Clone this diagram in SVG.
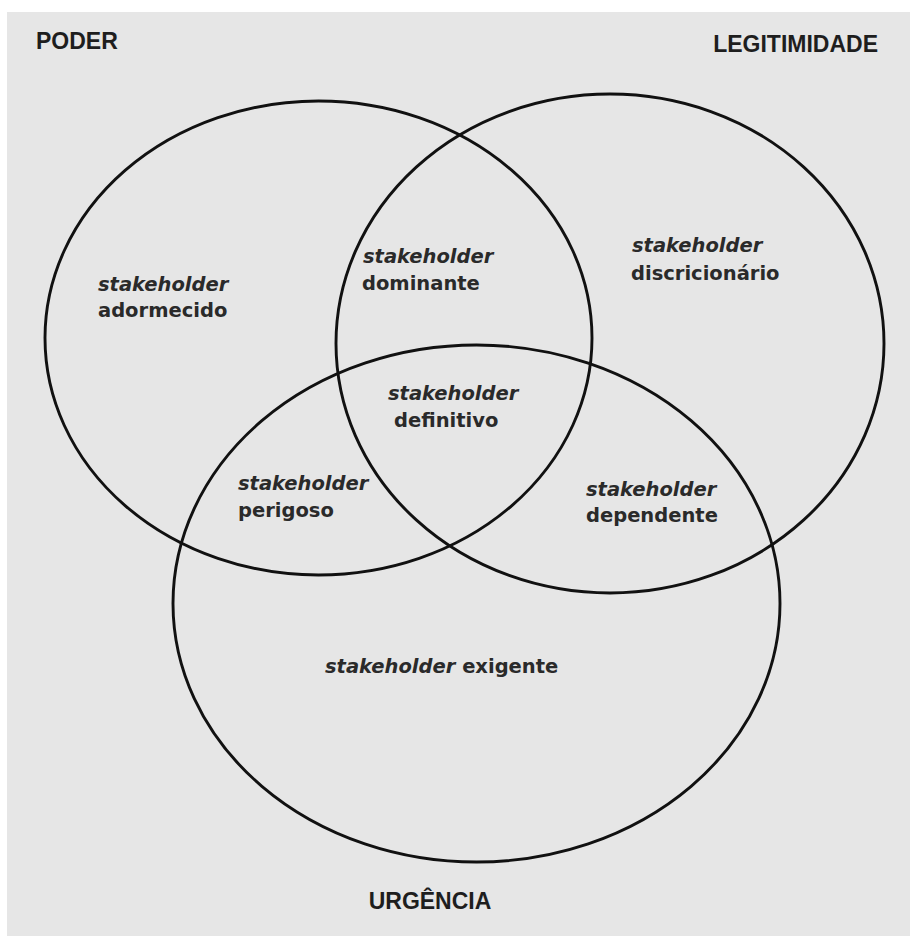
<svg xmlns="http://www.w3.org/2000/svg" width="910" height="940" viewBox="0 0 910 940">
  <style>
    .set { fill: none; stroke: #111; stroke-width: 2.9; }
    .title { font-family: "Liberation Sans", Arial, sans-serif; font-weight: bold; font-size: 23px; fill: #1e1e1e; }
    .lbl { font-family: "DejaVu Sans", "Liberation Sans", sans-serif; font-weight: bold; font-size: 19.5px; fill: #2a2a2a; }
    .it { font-style: italic; }
  </style>
  <rect x="0" y="0" width="910" height="940" fill="#ffffff"/>
  <rect x="7" y="12" width="903" height="924" fill="#e6e6e6"/>

  <g id="poder">
    <ellipse class="set" cx="318.5" cy="338" rx="273.5" ry="237"/>
    <text class="title" x="36" y="49">PODER</text>
  </g>
  <g id="legitimidade">
    <ellipse class="set" cx="610" cy="343.5" rx="274" ry="249.5"/>
    <text class="title" x="878" y="52" text-anchor="end">LEGITIMIDADE</text>
  </g>
  <g id="urgencia">
    <ellipse class="set" cx="476.5" cy="603.5" rx="303.5" ry="258.5"/>
    <text class="title" x="430" y="909" text-anchor="middle">URGÊNCIA</text>
  </g>

  <g id="adormecido">
    <text class="lbl it" x="98" y="291">stakeholder</text>
    <text class="lbl" x="98" y="317">adormecido</text>
  </g>
  <g id="dominante">
    <text class="lbl it" x="363" y="263">stakeholder</text>
    <text class="lbl" x="362" y="290">dominante</text>
  </g>
  <g id="discricionario">
    <text class="lbl it" x="632" y="252">stakeholder</text>
    <text class="lbl" x="631" y="280">discricionário</text>
  </g>
  <g id="definitivo">
    <text class="lbl it" x="388" y="400">stakeholder</text>
    <text class="lbl" x="394" y="427">definitivo</text>
  </g>
  <g id="perigoso">
    <text class="lbl it" x="238" y="490">stakeholder</text>
    <text class="lbl" x="238" y="517">perigoso</text>
  </g>
  <g id="dependente">
    <text class="lbl it" x="586" y="496">stakeholder</text>
    <text class="lbl" x="586" y="522">dependente</text>
  </g>
  <g id="exigente">
    <text class="lbl" x="325" y="673"><tspan class="it">stakeholder</tspan> exigente</text>
  </g>
  <g id="connectors"></g>
</svg>
